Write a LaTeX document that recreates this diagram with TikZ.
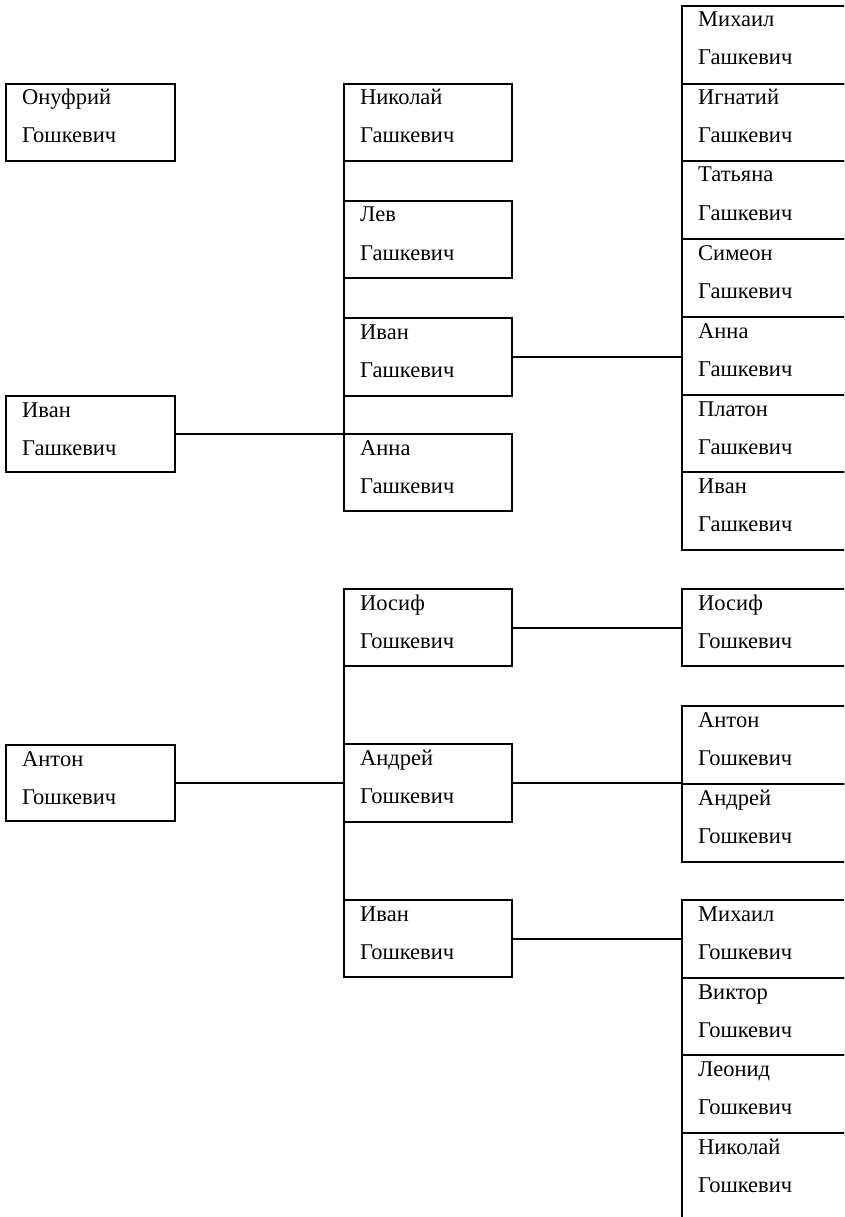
\documentclass[tikz,border=0pt]{standalone}
\usepackage{fontspec}
\setmainfont{Liberation Serif}
\tikzset{
  box/.style={draw, line width=2pt, anchor=north west, inner sep=0pt, outer sep=0pt},
  nm/.style={anchor=base west, inner sep=0pt, font=\fontsize{22.5}{26}\selectfont},
  link/.style={draw, line width=2pt}
}
% #1 name, #2 left x, #3 top, #4 bottom (downward), #5 first line, #6 second line, #7 right x
\newcommand\person[7]{%
  \node[box, minimum width={(#7-#2)*1pt}, minimum height={(#4-#3)*1pt}] (#1) at (#2,-#3) {};
  \node[nm] (#1-f) at (#2+16,-#3-21) {#5};
  \node[nm] (#1-l) at (#2+16,-#3-59) {#6};
}
\begin{document}
\begin{tikzpicture}[x=1pt,y=1pt]
\useasboundingbox (0,0) rectangle (844,-1217);
\clip (0,0) rectangle (844,-1217);
% left column
\person{onufr}{6}{84}{161}{Онуфрий}{Гошкевич}{175}
\person{ivanL}{6}{396}{472}{Иван}{Гашкевич}{175}
\person{antonL}{6}{745}{821}{Антон}{Гошкевич}{175}
% middle column (upper)
\person{nikM}{344}{84}{161}{Николай}{Гашкевич}{512}
\person{levM}{344}{201}{278}{Лев}{Гашкевич}{512}
\person{ivanM}{344}{318}{396}{Иван}{Гашкевич}{512}
\person{annaM}{344}{434}{511}{Анна}{Гашкевич}{512}
% middle column (lower)
\person{iosM}{344}{589}{666}{Иосиф}{Гошкевич}{512}
\person{andM}{344}{744}{822}{Андрей}{Гошкевич}{512}
\person{ivM}{344}{900}{977}{Иван}{Гошкевич}{512}
% right column (upper)
\person{mikhR}{682}{6}{84}{Михаил}{Гашкевич}{852}
\person{ignR}{682}{84}{161}{Игнатий}{Гашкевич}{852}
\person{tatR}{682}{161}{239}{Татьяна}{Гашкевич}{852}
\person{simR}{682}{239}{317}{Симеон}{Гашкевич}{852}
\person{annaR}{682}{317}{395}{Анна}{Гашкевич}{852}
\person{platR}{682}{395}{472}{Платон}{Гашкевич}{852}
\person{ivanR}{682}{472}{550}{Иван}{Гашкевич}{852}
% right column (lower)
\person{iosR}{682}{589}{666}{Иосиф}{Гошкевич}{852}
\person{antR}{682}{706}{784}{Антон}{Гошкевич}{852}
\person{andR}{682}{784}{862}{Андрей}{Гошкевич}{852}
\person{mikhR2}{682}{900}{978}{Михаил}{Гошкевич}{852}
\person{vikR}{682}{978}{1055}{Виктор}{Гошкевич}{852}
\person{leoR}{682}{1055}{1133}{Леонид}{Гошкевич}{852}
\person{nikR}{682}{1133}{1240}{Николай}{Гошкевич}{852}
% connectors
\path[link] (nikM.south west) -- (annaM.north west);
\path[link] (ivanL.east) -- (ivanL.east -| annaM.west);
\path[link] (ivanM.east) -- (ivanM.east -| annaR.west);
\path[link] (iosM.south west) -- (ivM.north west);
\path[link] (antonL.east) -- (antonL.east -| andM.west);
\path[link] (iosM.east) -- (iosM.east -| iosR.west);
\path[link] (andM.east) -- (andM.east -| andR.west);
\path[link] (ivM.east) -- (ivM.east -| mikhR2.west);
\end{tikzpicture}
\end{document}
